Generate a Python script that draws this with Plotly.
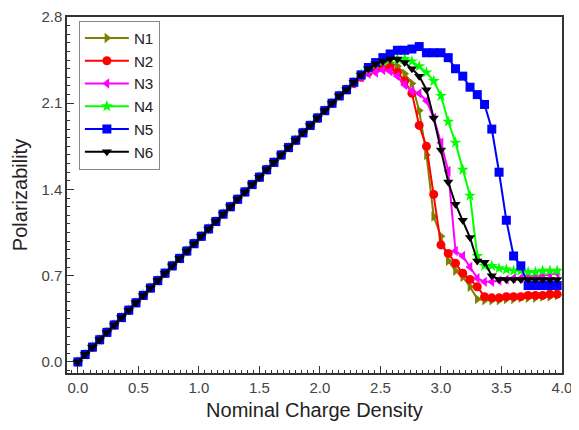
import plotly.graph_objects as go

charge_density = [0.00, 0.06, 0.12, 0.18, 0.24, 0.30, 0.36, 0.42, 0.48, 0.54,
                  0.60, 0.66, 0.72, 0.78, 0.84, 0.90, 0.96, 1.02, 1.08, 1.14,
                  1.20, 1.26, 1.32, 1.38, 1.44, 1.50, 1.56, 1.62, 1.68, 1.74,
                  1.80, 1.86, 1.92, 1.98, 2.04, 2.10, 2.16, 2.22, 2.28, 2.34,
                  2.40, 2.46, 2.52, 2.58, 2.64, 2.70, 2.76, 2.82, 2.88, 2.94,
                  3.00, 3.06, 3.12, 3.18, 3.24, 3.30, 3.36, 3.42, 3.48, 3.54,
                  3.60, 3.66, 3.72, 3.78, 3.84, 3.90, 3.96]

# Common linear rise shared by all series (x = 0 ... 2.22)
rise = [0.00, 0.06, 0.12, 0.18, 0.24, 0.30, 0.36, 0.42, 0.48, 0.54,
        0.60, 0.66, 0.72, 0.78, 0.84, 0.90, 0.96, 1.02, 1.08, 1.14,
        1.20, 1.26, 1.32, 1.38, 1.44, 1.50, 1.56, 1.62, 1.68, 1.74,
        1.80, 1.86, 1.92, 1.98, 2.04, 2.10, 2.16, 2.21]

# Per-series values for x = 2.28 ... 3.96
n1_tail = [2.27, 2.33, 2.38, 2.41, 2.43, 2.43, 2.40, 2.34, 2.26, 2.04,
           1.68, 1.18, 1.02, 0.82, 0.74, 0.69, 0.61, 0.51, 0.50, 0.50,
           0.50, 0.51, 0.51, 0.52, 0.52, 0.52, 0.53, 0.53, 0.54]
n2_tail = [2.26, 2.31, 2.35, 2.38, 2.39, 2.39, 2.35, 2.28, 2.18, 1.92,
           1.75, 1.36, 0.95, 0.88, 0.80, 0.72, 0.67, 0.61, 0.53, 0.52,
           0.52, 0.53, 0.53, 0.53, 0.54, 0.54, 0.54, 0.55, 0.55]
n3_tail = [2.26, 2.31, 2.34, 2.35, 2.37, 2.36, 2.32, 2.25, 2.20, 2.18,
           2.12, 1.98, 1.78, 1.55, 0.90, 0.86, 0.77, 0.68, 0.65, 0.65,
           0.66, 0.67, 0.68, 0.68, 0.69, 0.70, 0.70, 0.71, 0.72]
n4_tail = [2.27, 2.33, 2.38, 2.42, 2.44, 2.46, 2.46, 2.46, 2.44, 2.40,
           2.35, 2.28, 2.16, 1.95, 1.78, 1.56, 1.35, 0.86, 0.78, 0.78,
           0.76, 0.75, 0.74, 0.74, 0.73, 0.73, 0.74, 0.74, 0.74]
n5_tail = [2.27, 2.33, 2.39, 2.43, 2.47, 2.50, 2.53, 2.53, 2.54, 2.56,
           2.51, 2.51, 2.51, 2.47, 2.38, 2.32, 2.23, 2.17, 2.09, 1.89,
           1.54, 1.15, 0.86, 0.78, 0.62, 0.62, 0.62, 0.62, 0.62]
n6_tail = [2.27, 2.33, 2.38, 2.42, 2.44, 2.46, 2.46, 2.43, 2.38, 2.32,
           2.21, 1.98, 1.72, 1.46, 1.28, 1.15, 1.01, 0.82, 0.81, 0.70,
           0.67, 0.67, 0.67, 0.67, 0.67, 0.67, 0.67, 0.67, 0.67]

series_names = ["N1", "N2", "N3", "N4", "N5", "N6"]
series_tails = [n1_tail, n2_tail, n3_tail, n4_tail, n5_tail, n6_tail]
series_colors = ["#808000", "#FF0000", "#FF00FF", "#00FF00", "#0000FF", "#000000"]
series_symbols = ["triangle-right", "circle", "triangle-left", "star", "square", "triangle-down"]

x_ticks = [0.0, 0.5, 1.0, 1.5, 2.0, 2.5, 3.0, 3.5, 4.0]
y_ticks = [0.0, 0.7, 1.4, 2.1, 2.8]

fig = go.Figure()
for name, tail, color, sym in zip(series_names, series_tails, series_colors, series_symbols):
    fig.add_trace(go.Scatter(
        x=charge_density, y=rise + tail, name=name, mode="lines+markers",
        line=dict(color=color, width=2),
        marker=dict(symbol=sym, size=9, color=color, line=dict(width=0)),
        cliponaxis=False,
    ))

font_family = "Liberation Sans, Arial, sans-serif"
# page body has an 8px default margin, so the figure is sized to fit the window
fig.update_layout(
    width=571, height=422,
    margin=dict(l=59, r=17, t=9, b=57, autoexpand=False),
    paper_bgcolor="white", plot_bgcolor="white",
    font=dict(family=font_family, color="#333333", size=15),
    showlegend=True,
    legend=dict(
        x=0.024, y=0.99, xanchor="left", yanchor="top",
        bgcolor="white", bordercolor="#888888", borderwidth=1,
        font=dict(size=15.2, color="#222222"),
        tracegroupgap=0, itemwidth=44,
    ),
)
fig.update_xaxes(
    range=[-0.09, 4.0], tickvals=x_ticks, ticktext=[f"{v:.1f}" for v in x_ticks],
    ticks="inside", ticklen=7, tickwidth=1, tickcolor="#333333",
    minor=dict(dtick=0.05, tick0=0, ticks="inside", ticklen=3, tickcolor="#333333", showgrid=False),
    showline=True, linecolor="#333333", linewidth=1.5, mirror=True,
    showgrid=False, zeroline=False, automargin=False, ticklabeloverflow="allow",
    title=dict(text="Nominal Charge Density", font=dict(size=20, color="#222222"), standoff=8),
    tickfont=dict(size=15, color="#444444"),
)
fig.update_yaxes(
    range=[-0.09, 2.8], tickvals=y_ticks, ticktext=[f"{v:.1f}" for v in y_ticks],
    ticks="inside", ticklen=7, tickwidth=1, tickcolor="#333333",
    minor=dict(dtick=0.07, tick0=0, ticks="inside", ticklen=3, tickcolor="#333333", showgrid=False),
    showline=True, linecolor="#333333", linewidth=1.5, mirror=True,
    showgrid=False, zeroline=False, automargin=False, ticklabeloverflow="allow",
    title=dict(text="Polarizability", font=dict(size=20, color="#222222"), standoff=8),
    tickfont=dict(size=15, color="#444444"),
)

fig.write_html("out.html")
